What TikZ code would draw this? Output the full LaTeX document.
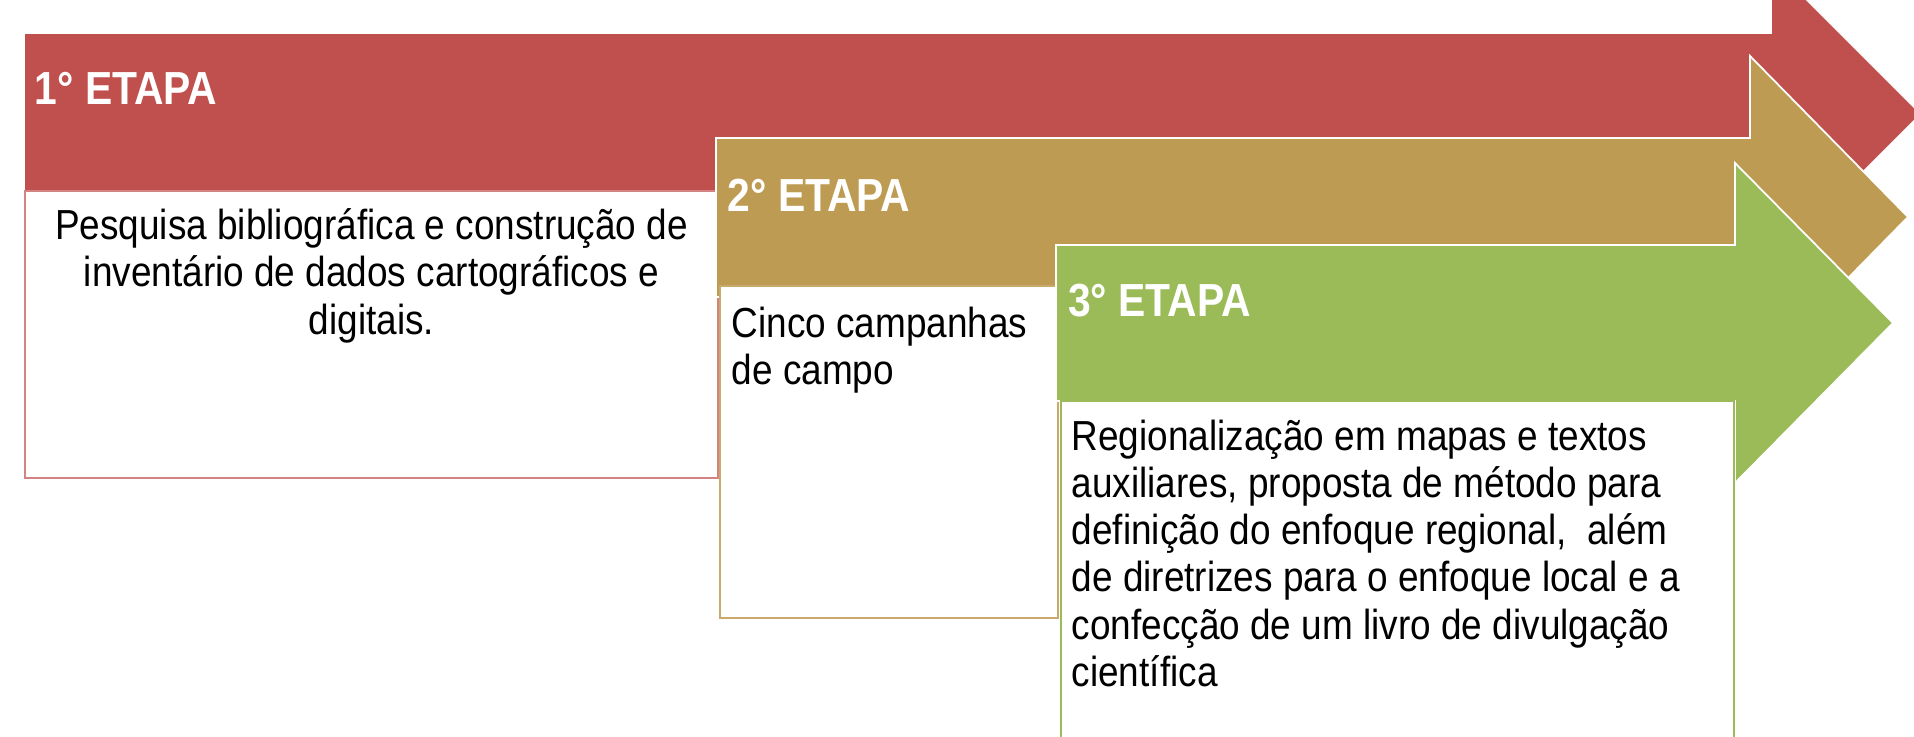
\documentclass[tikz,border=0pt]{standalone}
\usepackage{fontspec}
\setmainfont{Liberation Sans}[FakeStretch=0.88]
\usepackage{xcolor}

\definecolor{etapared}{HTML}{C0504D}
\definecolor{etapagold}{HTML}{BE9B52}
\definecolor{etapagreen}{HTML}{9BBB59}

\tikzset{
  headtext/.style={text=white, font=\fontsize{13.2pt}{14pt}\selectfont\bfseries, inner sep=0pt, anchor=base west},
  bodytext/.style={text=black, font=\fontsize{11.95pt}{13.45pt}\selectfont, inner sep=0pt},
  stagebox/.style={fill=white, line width=0.6pt, inner sep=0pt, anchor=north west},
  stagearrow/.style={draw=white, line width=0.5pt},
}

\begin{document}
\begin{tikzpicture}
  \useasboundingbox (0,0) rectangle (19.14,-7.37);
  \clip (0,0) rectangle (19.14,-7.37);

  %1st stage
  \path[stagearrow, fill=etapared] (0.24,-0.33) -- (17.71,-0.33) -- (17.71,0.36) -- (19.21,-1.14)
    -- (17.71,-2.64) -- (17.71,-1.96) -- (0.24,-1.96) -- cycle;
  \node[headtext] (h1) at (0.34,-1.05) {1° ETAPA};
  \node[stagebox, draw=etapared!70, minimum width=6.93cm, minimum height=2.87cm] (box1) at (0.24,-1.90) {};
  \node[bodytext, align=center, anchor=north] (t1) at ([yshift=-0.18cm]box1.north)
    {Pesquisa bibliográfica e construção de\\inventário de dados cartográficos e\\digitais.};

  %2nd stage
  \path[stagearrow, fill=etapagold] (7.16,-1.38) -- (17.50,-1.38) -- (17.50,-0.56) -- (19.08,-2.17)
    -- (17.50,-3.78) -- (17.50,-2.97) -- (7.16,-2.97) -- cycle;
  \node[headtext] (h2) at (7.27,-2.12) {2° ETAPA};
  \node[stagebox, draw=etapagold!85, minimum width=3.38cm, minimum height=3.32cm] (box2) at (7.19,-2.85) {};
  \node[bodytext, align=left, anchor=north west] (t2) at ([xshift=0.12cm, yshift=-0.215cm]box2.north west)
    {Cinco campanhas\\de campo};

  %3rd stage
  \path[stagearrow, fill=etapagreen] (10.56,-2.45) -- (17.35,-2.45) -- (17.35,-1.63) -- (18.93,-3.23)
    -- (17.35,-4.83) -- (17.35,-4.01) -- (10.56,-4.01) -- cycle;
  \node[headtext] (h3) at (10.675,-3.17) {3° ETAPA};
  \node[stagebox, draw=etapagreen, minimum width=6.73cm, minimum height=3.60cm] (box3) at (10.60,-4.00) {};
  \node[bodytext, align=left, anchor=north west] (t3) at ([xshift=0.11cm, yshift=-0.19cm]box3.north west)
    {Regionalização em mapas e textos\\auxiliares, proposta de método para\\definição do enfoque regional,~ além\\de diretrizes para o enfoque local e a\\confecção de um livro de divulgação\\científica};

\end{tikzpicture}
\end{document}
